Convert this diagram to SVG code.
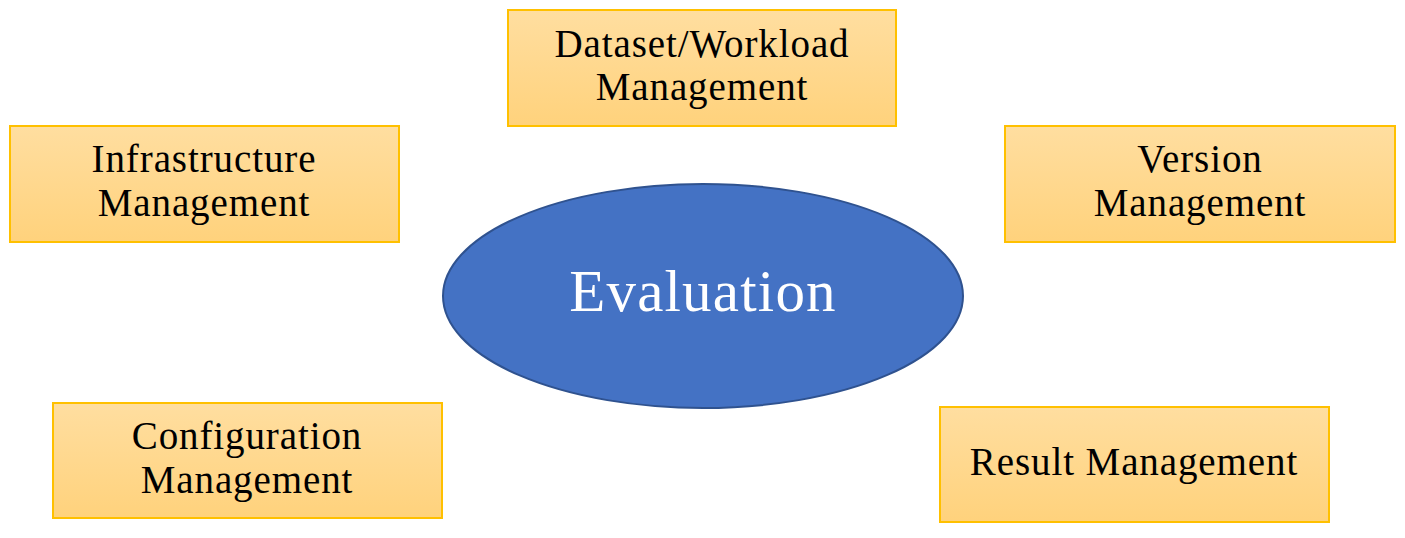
<svg xmlns="http://www.w3.org/2000/svg" width="1405" height="538" viewBox="0 0 1405 538">
<style>
.box{fill:url(#g);stroke:#FFC000;stroke-width:2}
.t{font-family:"Liberation Serif","DejaVu Serif",serif;font-size:39px;fill:#000;text-anchor:middle;letter-spacing:0.9px}
.e{font-family:"Liberation Serif","DejaVu Serif",serif;font-size:59px;fill:#fff;text-anchor:middle;letter-spacing:1.2px}
</style>
<defs>
<linearGradient id="g" x1="0" y1="0" x2="0" y2="1">
<stop offset="0" stop-color="#FFDEA0"/>
<stop offset="1" stop-color="#FFD27C"/>
</linearGradient>
</defs>
<rect width="1405" height="538" fill="#fff"/>
<g id="connectors"></g>
<g id="evaluation">
<ellipse cx="703" cy="296" rx="260" ry="112" fill="#4472C4" stroke="#2F528F" stroke-width="2"/>
<text class="e" x="703" y="311">Evaluation</text>
</g>
<g id="dataset">
<rect class="box" x="508" y="10" width="388" height="116"/>
<text class="t" x="702" y="57">Dataset/Workload</text>
<text class="t" x="702" y="100">Management</text>
</g>
<g id="infrastructure">
<rect class="box" x="10" y="126" width="389" height="116"/>
<text class="t" x="204" y="172">Infrastructure</text>
<text class="t" x="204" y="216">Management</text>
</g>
<g id="version">
<rect class="box" x="1005" y="126" width="390" height="116"/>
<text class="t" x="1200" y="172">Version</text>
<text class="t" x="1200" y="216">Management</text>
</g>
<g id="configuration">
<rect class="box" x="53" y="403" width="389" height="115"/>
<text class="t" x="247" y="449">Configuration</text>
<text class="t" x="247" y="493">Management</text>
</g>
<g id="result">
<rect class="box" x="940" y="407" width="389" height="115"/>
<text class="t" x="1134" y="475">Result Management</text>
</g>
</svg>
